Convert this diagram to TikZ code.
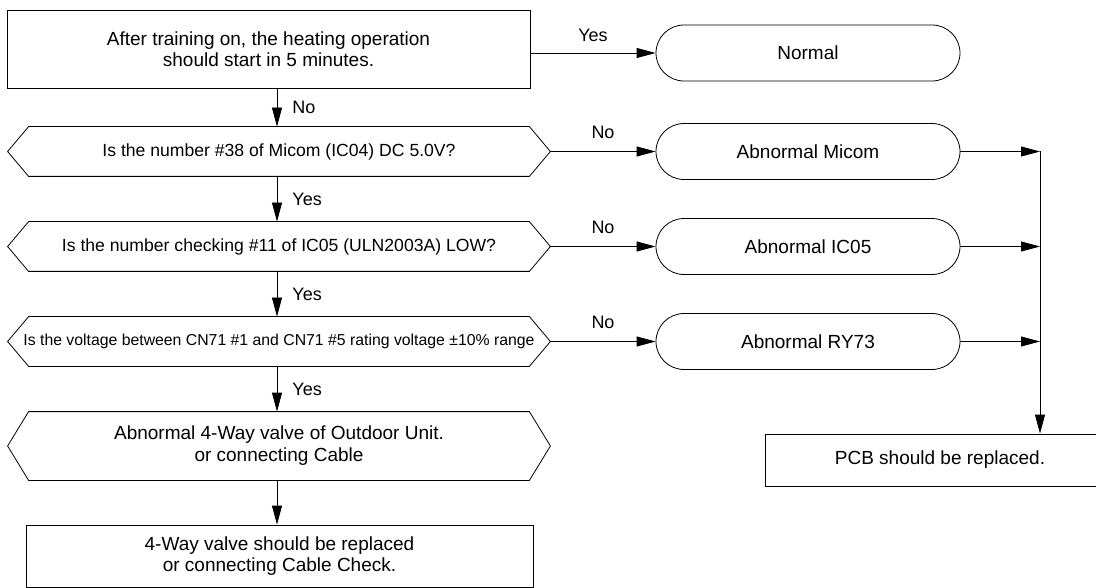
\documentclass[tikz,border=0pt]{standalone}
\usepackage{fontspec}
\setmainfont{Liberation Sans}
\usetikzlibrary{arrows.meta,shapes.misc}
\newcommand\hexdraw[2]{\draw (#1.west) -- ([xshift=#2]#1.north west) -- ([xshift=-#2]#1.north east) -- (#1.east) -- ([xshift=-#2]#1.south east) -- ([xshift=#2]#1.south west) -- cycle;}
\begin{document}
\begin{tikzpicture}[x=1pt,y=-1pt,
  line width=0.8pt,
  arr/.style={-{Triangle[length=19pt,width=10pt]}},
  box/.style={draw, rectangle, align=center, font=\fontsize{19}{21.5}\selectfont, inner sep=0pt},
  term/.style={draw, rounded rectangle, minimum width=304pt, minimum height=56pt, font=\fontsize{19}{22}\selectfont, inner sep=0pt},
  hexn/.style={rectangle, align=center, inner sep=0pt, minimum width=542pt},
  lbl/.style={font=\fontsize{18}{20}\selectfont, inner sep=0pt}
]
\clip (0,0) rectangle (1096,588);
\fill[white] (0,0) rectangle (1096,588);

\node[box, minimum width=523pt, minimum height=78pt] (start) at (268.5,49) {After training on, the heating operation\\should start in 5 minutes.};
\node[term] (normal) at (808,53) {Normal};
\node[term] (micom) at (808,151.5) {Abnormal Micom};
\node[term] (ic05) at (808,246.5) {Abnormal IC05};
\node[term] (ry73) at (808,341.5) {Abnormal RY73};

\node[hexn, minimum height=49pt, font=\fontsize{17.6}{20}\selectfont] (h1) at (279,151.5) {Is the number \#38 of Micom (IC04) DC 5.0V?};
\node[hexn, minimum height=49pt, font=\fontsize{17.6}{20}\selectfont] (h2) at (279,246.5) {Is the number checking \#11 of IC05 (ULN2003A) LOW?};
\node[hexn, minimum height=49pt, font=\fontsize{15.8}{18}\selectfont] (h3) at (279,341.5) {Is the voltage between CN71 \#1 and CN71 \#5 rating voltage ±10\% range};
\node[hexn, minimum height=68pt, font=\fontsize{19}{22}\selectfont] (h4) at (279,446) {Abnormal 4-Way valve of Outdoor Unit.\\or connecting Cable};
\hexdraw{h1}{21pt}
\hexdraw{h2}{21pt}
\hexdraw{h3}{21pt}
\hexdraw{h4}{21pt}

\node[box, minimum width=507pt, minimum height=62pt] (valve) at (279.5,556) {4-Way valve should be replaced\\or connecting Cable Check.};
\node[box, minimum width=350pt, minimum height=52pt] (pcb) at (940,460) {PCB should be replaced.};

\coordinate (spine) at (277,0);
\coordinate (j1) at (1040,151.5);
\coordinate (j2) at (1040,246.5);
\coordinate (j3) at (1040,341.5);

\draw[arr] (normal.west -| start.east) -- (normal.west) node[lbl, midway, above=11pt] {Yes};
\draw[arr] (start.south -| spine) -- (h1.north -| spine) node[lbl, midway, right=15pt] {No};
\draw[arr] (h1.south -| spine) -- (h2.north -| spine) node[lbl, midway, right=15pt] {Yes};
\draw[arr] (h2.south -| spine) -- (h3.north -| spine) node[lbl, midway, right=15pt] {Yes};
\draw[arr] (h3.south -| spine) -- (h4.north -| spine) node[lbl, midway, right=15pt] {Yes};
\draw[arr] (h4.south -| spine) -- (valve.north -| spine);

\draw[arr] (h1.east) -- (micom.west) node[lbl, midway, above=12pt] {No};
\draw[arr] (h2.east) -- (ic05.west) node[lbl, midway, above=12pt] {No};
\draw[arr] (h3.east) -- (ry73.west) node[lbl, midway, above=12pt] {No};

\draw[arr] (micom.east) -- (j1);
\draw[arr] (ic05.east) -- (j2);
\draw[arr] (ry73.east) -- (j3);
\draw[arr] (j1) -- (pcb.north -| j1);
\end{tikzpicture}
\end{document}
